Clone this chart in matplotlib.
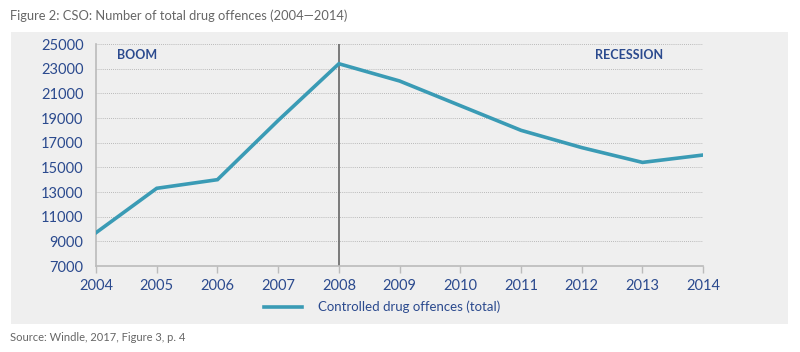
import matplotlib.pyplot as plt
from matplotlib.patches import Rectangle

plt.rcParams['font.family'] = ['Lato', 'DejaVu Sans']

years = [2004, 2005, 2006, 2007, 2008, 2009, 2010, 2011, 2012, 2013, 2014]
offences = [9700, 13300, 14000, 18800, 23400, 22000, 20000, 18000, 16600, 15400, 16000]
y_ticks = [7000, 9000, 11000, 13000, 15000, 17000, 19000, 21000, 23000, 25000]

blue_txt = '#2b4a8e'
teal = '#3a9bb5'

fig = plt.figure(figsize=(8, 3.52), dpi=100)
fig.patch.set_facecolor('white')
# grey panel behind the chart
fig.patches.append(Rectangle((0.01375, 0.0795), 0.97125, 0.8295, transform=fig.transFigure,
                             facecolor='#efefef', edgecolor='none', zorder=-5))

ax = fig.add_axes([0.12, 0.2443, 0.759, 0.6307])
ax.set_zorder(1)
ax.set_facecolor('none')
ax.plot(years, offences, color=teal, lw=2.6, label='Controlled drug offences (total)',
        solid_joinstyle='miter', zorder=3)
ax.axvline(2008, color='#666666', lw=1.2, zorder=2)

ax.set_xlim(2004, 2014)
ax.set_ylim(7000, 25000)
ax.set_xticks(years)
ax.set_yticks(y_ticks)
ax.grid(axis='y', color='#a8a8a8', linestyle=(0, (1, 1.5)), lw=0.6)
for s in ['top', 'right']:
    ax.spines[s].set_visible(False)
for s in ['left', 'bottom']:
    ax.spines[s].set_color('#bbbbbb')
    ax.spines[s].set_linewidth(1.2)
ax.tick_params(axis='y', length=0, pad=9, labelsize=10.5, labelcolor=blue_txt)
ax.tick_params(axis='x', length=5, color='#bbbbbb', width=1, pad=4, labelsize=10.5,
               labelcolor=blue_txt)

ax.text(2004.35, 24100, 'BOOM', color=blue_txt, fontsize=9, fontweight='bold', va='center')
ax.text(2012.22, 24100, 'RECESSION', color=blue_txt, fontsize=9, fontweight='bold', va='center')

fig.legend(loc='center', bbox_to_anchor=(0.478, 0.128), frameon=False, fontsize=9.5,
           labelcolor=blue_txt, handlelength=2.9, handletextpad=1.2)

fig.text(0.0125, 0.955, 'Figure 2: CSO: Number of total drug offences (2004\u20142014)',
         color='#666666', fontsize=9.3, va='center')
fig.text(0.0125, 0.042, 'Source: Windle, 2017, Figure 3, p. 4', color='#666666',
         fontsize=8, va='center')

fig.savefig('out.png', dpi=100)
